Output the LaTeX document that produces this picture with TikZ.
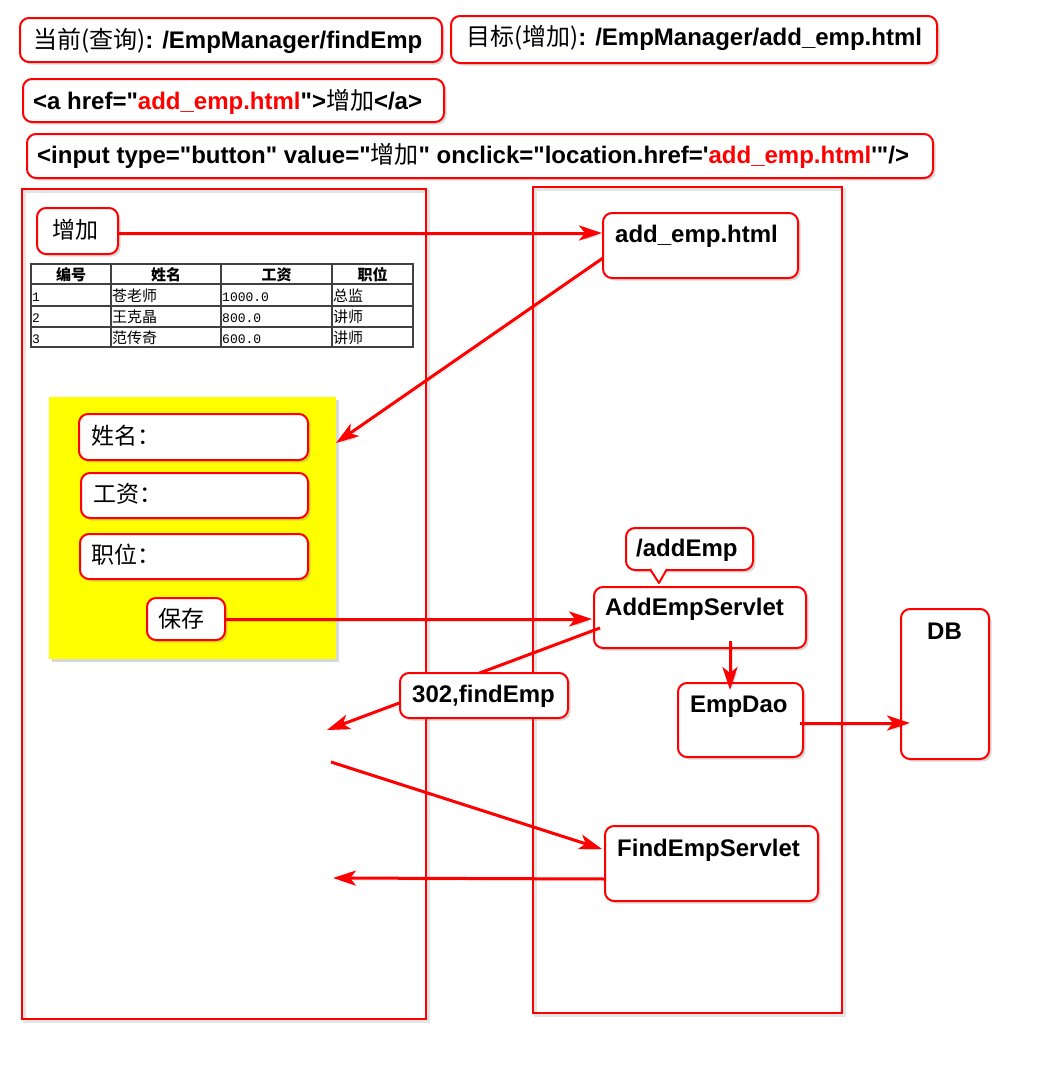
\documentclass[tikz,border=0pt]{standalone}
\usepackage{fontspec}
\usetikzlibrary{arrows.meta,shadows,calc}
\newfontfamily\lat{Liberation Sans}
\newfontfamily\cjk{Noto Sans CJK SC}
\newfontfamily\mono{Liberation Mono}
\newcommand\zh[1]{{\cjk\mdseries #1}}
\definecolor{hl}{RGB}{255,0,0}
\definecolor{formbg}{RGB}{255,255,0}
\definecolor{grid}{RGB}{64,64,64}
\tikzset{
  box/.style={draw=hl, line width=2pt, fill=white, rounded corners=9pt,
    anchor=north west, inner sep=0pt,
    drop shadow={shadow xshift=2.5pt, shadow yshift=-2.5pt, opacity=0.3}},
  formbox/.style={fill=formbg, anchor=north west, inner sep=0pt,
    drop shadow={shadow xshift=2.5pt, shadow yshift=-2.5pt, opacity=0.3}},
  code/.style={font=\lat\bfseries\fontsize{24}{28}\selectfont, anchor=base west, inner sep=0pt},
  han/.style={font=\cjk\fontsize{23}{28}\selectfont, anchor=base west, inner sep=0pt},
  cell/.style={font=\cjk\fontsize{15}{17}\selectfont, anchor=base west, inner sep=0pt},
  head/.style={font=\cjk\bfseries\fontsize{15}{17}\selectfont, anchor=base, inner sep=0pt},
  num/.style={font=\mono\fontsize{13}{15}\selectfont, anchor=base west, inner sep=0pt},
  panel/.style={draw=hl, line width=2.2pt,
    preaction={draw=black, opacity=0.1, line width=3pt, transform canvas={shift={(2.5pt,-2.5pt)}}}},
  arr/.style={draw=hl, line width=3pt, -{Stealth[length=23pt,width=15pt,inset=6pt]},
    preaction={draw=black, opacity=0.12, transform canvas={shift={(2pt,-2pt)}}}},
  tbl/.style={draw=grid, line width=1.5pt}
}
\begin{document}
\begin{tikzpicture}[x=1pt,y=-1pt]
\useasboundingbox (0,0) rectangle (1047,1092);

% request paths and markup
\node[box, minimum width=422, minimum height=44] (cur) at (19,17) {};
\node[code] (curtxt) at (33,48) {\zh{当前(查询)}: /EmpManager/findEmp};
\node[box, minimum width=486, minimum height=47] (goal) at (450,15) {};
\node[code] (goaltxt) at (466,45) {\zh{目标(增加)}: /EmpManager/add\_emp.html};
\node[box, minimum width=421, minimum height=43] (link) at (22,78) {};
\node[code] (linktxt) at (33,109) {<a href="\textcolor{hl}{add\_emp.html}">\zh{增加}</a>};
\node[box, minimum width=906, minimum height=44] (btn) at (26,133) {};
\node[code] (btntxt) at (37,163) {<input type="button" value="\zh{增加}" onclick="location.href='\textcolor{hl}{add\_emp.html}'"/>};

% browser and server
\draw[panel] (22,189) rectangle (426,1019);
\draw[panel] (533,187) rectangle (842,1013);

% browser: list page
\node[box, minimum width=81, minimum height=46] (addbtn) at (36,207) {};
\node[han] (addbtntxt) at (52,238) {增加};

\draw[tbl] (31,264) rectangle (413,347);
\foreach \y in {284,306,327} \draw[tbl] (31,\y) -- (413,\y);
\foreach \x in {111,221,332} \draw[tbl] (\x,264) -- (\x,347);
\foreach \x/\t [count=\i] in {71/编号,166/姓名,276.5/工资,372.5/职位}
  \node[head] (h\i) at (\x,280) {\t};
\foreach \y/\n/\nm/\s/\j [count=\i] in {301/1/苍老师/1000.0/总监,322/2/王克晶/800.0/讲师,343/3/范传奇/600.0/讲师}{
  \node[num] (id\i) at (32,\y) {\n};
  \node[cell] (nm\i) at (112,\y) {\nm};
  \node[num] (sal\i) at (222,\y) {\s};
  \node[cell] (job\i) at (333,\y) {\j};
}

% browser: add form
\node[formbox, minimum width=287, minimum height=262] (form) at (49,397) {};
\node[box, minimum width=229, minimum height=46] (fname) at (78,413) {};
\node[han] (fnametxt) at (91,444) {姓名：};
\node[box, minimum width=227, minimum height=45] (fsal) at (80,472) {};
\node[han] (fsaltxt) at (93,502) {工资：};
\node[box, minimum width=228, minimum height=45] (fjob) at (79,533) {};
\node[han] (fjobtxt) at (91,563) {职位：};
\node[box, minimum width=78, minimum height=42] (save) at (146,597) {};
\node[han] (savetxt) at (158,627) {保存};

% server components
\node[box, minimum width=195, minimum height=65] (addhtml) at (602,212) {};
\node[code] (addhtmltxt) at (615,242) {add\_emp.html};
\node[box, minimum width=127, minimum height=42] (url) at (625,527) {};
\fill[white] (649,566) -- (659,583) -- (668,566) -- cycle;
\draw[hl, line width=2pt, line join=round] (650,569) -- (659,583) -- (667,569);
\node[code] (urltxt) at (636,556) {/addEmp};
\node[box, minimum width=212, minimum height=61] (aes) at (593,586) {};
\node[code] (aestxt) at (605,615) {AddEmpServlet};
\node[box, minimum width=125, minimum height=74] (dao) at (677,682) {};
\node[code] (daotxt) at (690,712) {EmpDao};
\node[box, minimum width=88, minimum height=150] (db) at (900,608) {};
\node[code] (dbtxt) at (927,639) {DB};
\node[box, minimum width=213, minimum height=75] (fes) at (604,825) {};
\node[code] (festxt) at (617,856) {FindEmpServlet};

% free ends on the browser side
\coordinate (formin) at (336,443);
\coordinate (back1) at (327,730);
\coordinate (back2) at (331,762);
\coordinate (back3) at (333,878);

% request flow
\draw[arr] ($(addbtn.east)+(-1,2)$) -- ($(addbtn.east -| addhtml.west)+(0,2)$);
\draw[arr] ($(addhtml.west)+(1,12.5)$) -- (formin);
\draw[arr] ($(save.east)+(-2,0)$) -- ($(save.east -| aes.west)+(-1,0)$);
\draw[arr] ($(aes.west)+(7,10.5)$) -- (back1);
\draw[arr] ($(aes.south)+(30,-8)$) -- ($(dao.north)+(-10.5,8)$);
\draw[arr] ($(dao.east)+(-4,3)$) -- ($(dao.east -| db.west)+(10,3)$);
\draw[arr] (back2) -- ($(fes.west)+(-2,-14.5)$);
\draw[arr] ($(fes.west)+(2,15.5)$) -- (back3);

% redirect label over its connector
\node[box, minimum width=168, minimum height=45] (redir) at (399,672) {};
\node[code] (redirtxt) at (412,702) {302,findEmp};
\end{tikzpicture}
\end{document}
